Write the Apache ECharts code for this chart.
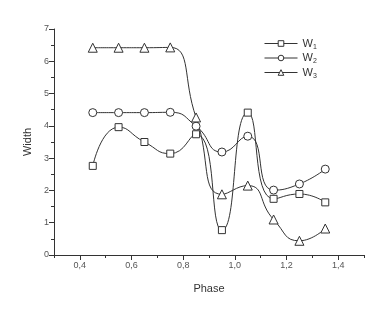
<!DOCTYPE html>
<html><head><meta charset="utf-8">
<script src="https://cdn.jsdelivr.net/npm/echarts@6/dist/echarts.min.js"></script>
<style>html,body{margin:0;padding:0;background:#fff}#c{width:388px;height:317px}</style>
</head><body><div id="c"></div>
<script>
const phase = [0.45, 0.55, 0.65, 0.75, 0.85, 0.95, 1.05, 1.15, 1.25, 1.35];
const w1 = [2.76, 3.96, 3.50, 3.14, 3.74, 0.77, 4.41, 1.74, 1.89, 1.63];
const w2 = [4.41, 4.41, 4.41, 4.42, 3.99, 3.19, 3.68, 2.01, 2.20, 2.66];
const w3 = [6.42, 6.42, 6.42, 6.43, 4.26, 1.88, 2.15, 1.10, 0.44, 0.82];
const xMajorTicks = [0.4, 0.6, 0.8, 1.0, 1.2, 1.4];
const names = ['w1', 'w2', 'w3'];

const pair = (ys) => phase.map((x, i) => [x, ys[i]]);
const col = '#333';
const font = 'Liberation Sans, Arial, sans-serif';
function mk(name, ys, sym, size) {
  return {
    name, type: 'line', data: pair(ys), smooth: 0.55,
    symbol: sym, symbolSize: size, showAllSymbol: true,
    lineStyle: { color: col, width: 1 },
    itemStyle: { color: '#fff', borderColor: col, borderWidth: 1 },
    emphasis: { disabled: true }
  };
}
const chart = echarts.init(document.getElementById('c'), null, { renderer: 'canvas' });
chart.setOption({
  animation: false,
  backgroundColor: '#fff',
  grid: { left: 54, right: 24, top: 29, bottom: 62 },
  legend: {
    left: 264, top: 38, orient: 'vertical',
    itemWidth: 33, itemHeight: 7, itemGap: 2, padding: 0,
    data: names,
    itemStyle: { color: '#fff', borderColor: col, borderWidth: 1 },
    lineStyle: { color: col, width: 1 },
    formatter: (n) => '{a|W}{b|' + n.slice(1) + '}',
    textStyle: {
      color: col, fontFamily: font, lineHeight: 10,
      rich: { a: { fontSize: 11, color: col, fontFamily: font }, b: { fontSize: 7, color: col, fontFamily: font, padding: [7, 0, 0, 0] } }
    }
  },
  xAxis: [
    {
      type: 'value', min: 0.3, max: 1.5, interval: 0.1,
      name: 'Phase', nameLocation: 'middle', nameGap: 28,
      nameTextStyle: { fontSize: 11, color: col, fontFamily: font },
      axisLine: { lineStyle: { color: col, width: 1 } },
      axisTick: { show: true, length: 3, inside: false, lineStyle: { color: col } },
      axisLabel: { show: false },
      splitLine: { show: false }
    },
    {
      type: 'value', min: 0.3, max: 1.5, position: 'bottom',
      axisLine: { show: false },
      axisTick: { show: true, length: 5, customValues: xMajorTicks, lineStyle: { color: col } },
      axisLabel: { customValues: xMajorTicks, fontSize: 9, color: '#555', fontFamily: font, margin: 6,
        formatter: (v) => v.toFixed(1).replace('.', ',') },
      splitLine: { show: false }
    }
  ],
  yAxis: {
    type: 'value', min: 0, max: 7, interval: 1,
    name: 'Width', nameLocation: 'middle', nameGap: 20, nameRotate: 90,
    nameTextStyle: { fontSize: 11, color: col, fontFamily: font },
    axisLine: { show: true, lineStyle: { color: col, width: 1 } },
    axisTick: { show: true, length: 5, lineStyle: { color: col } },
    minorTick: { show: true, splitNumber: 2, length: 3, lineStyle: { color: col } },
    axisLabel: { fontSize: 9, color: '#555', fontFamily: font, margin: 5 },
    splitLine: { show: false }
  },
  series: [
    mk('w1', w1, 'rect', 7),
    mk('w2', w2, 'circle', 8),
    mk('w3', w3, 'triangle', 9)
  ]
});
</script></body></html>
